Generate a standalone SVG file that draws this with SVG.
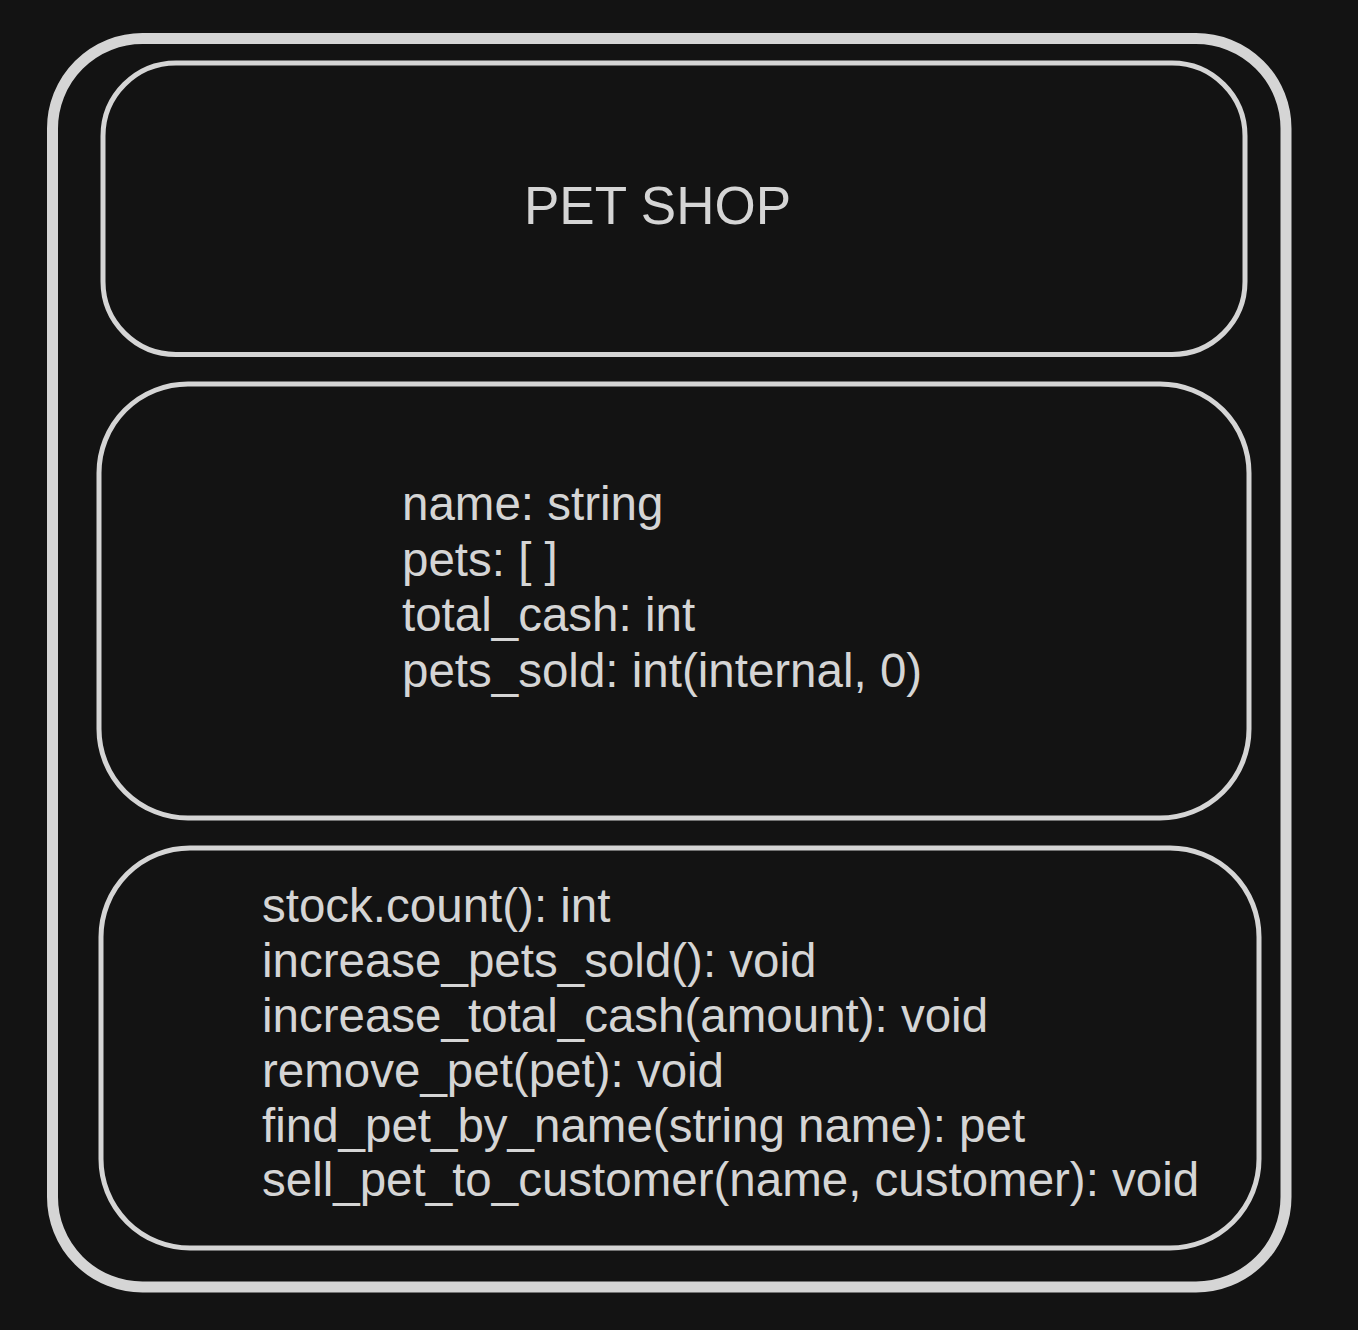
<svg xmlns="http://www.w3.org/2000/svg" width="1358" height="1330" viewBox="0 0 1358 1330">
<style>
.box{fill:none;stroke:#d5d5d5;stroke-width:5}
.outer{fill:none;stroke:#d5d5d5;stroke-width:11}
.t{font-family:"Liberation Sans",Arial,Helvetica,sans-serif;fill:#d5d5d5}
</style>
<rect x="0" y="0" width="1358" height="1330" fill="#131313"/>
<g id="pet-shop-class">
<rect class="outer" x="52.5" y="38.5" width="1233.5" height="1248.5" rx="90" ry="90"/>
</g>
<g id="title-box">
<rect class="box" x="103" y="63" width="1142" height="291.5" rx="73" ry="73"/>
<text class="t" x="524" y="224" font-size="53">PET SHOP</text>
</g>
<g id="attributes-box">
<rect class="box" x="99" y="384" width="1150" height="434" rx="89" ry="89"/>
<text class="t" font-size="47.5">
<tspan x="402" y="520">name: string</tspan>
<tspan x="402" y="575.5">pets: [ ]</tspan>
<tspan x="402" y="631">total_cash: int</tspan>
<tspan x="402" y="686.5">pets_sold: int(internal, 0)</tspan>
</text>
</g>
<g id="methods-box">
<rect class="box" x="101" y="848" width="1158" height="400" rx="89" ry="89"/>
<text class="t" font-size="47.5">
<tspan x="262" y="921.5">stock.count(): int</tspan>
<tspan x="262" y="976.5">increase_pets_sold(): void</tspan>
<tspan x="262" y="1031.5">increase_total_cash(amount): void</tspan>
<tspan x="262" y="1086.5">remove_pet(pet): void</tspan>
<tspan x="262" y="1141.5">find_pet_by_name(string name): pet</tspan>
<tspan x="262" y="1196">sell_pet_to_customer(name, customer): void</tspan>
</text>
</g>
<g id="connectors"/>
</svg>
